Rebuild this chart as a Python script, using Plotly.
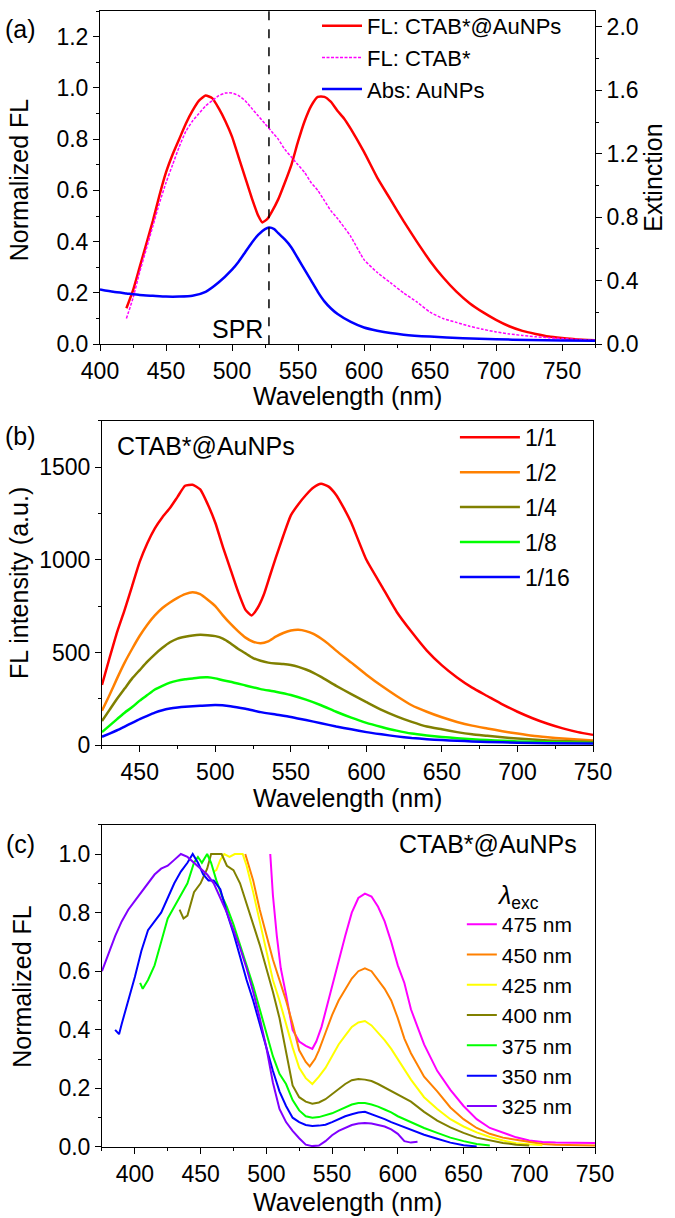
import plotly.graph_objects as go

# ---------------- panel (a) ----------------
a_fl_au_wl = [420, 425, 430, 435, 440, 445, 450, 455, 460, 465, 470, 475, 480, 485, 490, 495, 500, 505, 510, 515,
              520, 523, 527, 530, 535, 540, 545, 550, 555, 560, 565, 570, 575, 580, 585, 590, 600, 610, 620, 630,
              640, 650, 660, 670, 680, 690, 700, 710, 720, 730, 740, 750, 760, 775]
a_fl_au = [0.14, 0.21, 0.30, 0.39, 0.48, 0.58, 0.67, 0.74, 0.80, 0.86, 0.91, 0.95, 0.97, 0.96, 0.92, 0.87, 0.81, 0.73, 0.65, 0.57,
           0.50, 0.475, 0.49, 0.515, 0.565, 0.63, 0.70, 0.79, 0.87, 0.93, 0.965, 0.965, 0.945, 0.91, 0.88, 0.84, 0.75, 0.65, 0.565, 0.48,
           0.40, 0.325, 0.26, 0.205, 0.16, 0.125, 0.095, 0.07, 0.052, 0.04, 0.03, 0.024, 0.019, 0.015]

a_fl_ctab_wl = [420, 425, 430, 435, 440, 445, 450, 455, 460, 465, 470, 475, 480, 485, 490, 495, 500, 505, 510, 515,
                520, 525, 530, 535, 540, 545, 550, 555, 560, 565, 570, 575, 580, 590, 600, 610, 620, 630, 640, 650,
                660, 670, 680, 690, 700, 710, 720, 730, 740, 750, 760, 775]
a_fl_ctab = [0.10, 0.18, 0.28, 0.37, 0.46, 0.55, 0.63, 0.70, 0.77, 0.83, 0.87, 0.90, 0.93, 0.95, 0.97, 0.98, 0.98, 0.97, 0.95, 0.92,
             0.89, 0.86, 0.83, 0.80, 0.76, 0.73, 0.70, 0.67, 0.63, 0.60, 0.56, 0.52, 0.49, 0.42, 0.33, 0.28, 0.24, 0.20, 0.165, 0.125,
             0.10, 0.085, 0.07, 0.058, 0.048, 0.04, 0.034, 0.029, 0.025, 0.022, 0.019, 0.016]

a_abs_wl = [400, 410, 420, 430, 440, 450, 460, 470, 480, 490, 500, 505, 510, 515, 520, 525, 528, 532, 535, 540,
            545, 550, 555, 560, 565, 570, 575, 580, 590, 600, 610, 620, 630, 650, 675, 700, 725, 750, 775]
a_abs = [0.345, 0.33, 0.32, 0.31, 0.305, 0.30, 0.30, 0.305, 0.33, 0.39, 0.47, 0.52, 0.58, 0.64, 0.69, 0.725, 0.735, 0.725, 0.70, 0.66,
         0.61, 0.54, 0.47, 0.40, 0.33, 0.27, 0.225, 0.19, 0.14, 0.105, 0.085, 0.07, 0.06, 0.048, 0.038, 0.031, 0.026, 0.023, 0.021]

spr_nm = 528

# ---------------- panel (b) ----------------
b_names = ["1/1", "1/2", "1/4", "1/8", "1/16"]
b_colors = ["#FF0000", "#FF8000", "#808000", "#00FF00", "#0000FF"]

b_wl_11 = [425, 430, 435, 440, 445, 450, 455, 460, 465, 470, 475, 480, 485, 490, 495, 500, 505, 510, 515, 520,
           524, 528, 532, 536, 540, 545, 550, 555, 560, 565, 570, 575, 580, 585, 590,
           600, 610, 620, 630, 640, 650, 660, 670, 680, 690, 700, 710, 720, 730, 740, 750]
b_fl_11 = [325, 470, 610, 730, 860, 990, 1090, 1170, 1230, 1280, 1340, 1400, 1405, 1380, 1300, 1200, 1070, 950, 830, 730,
           700, 740, 810, 910, 1010, 1130, 1240, 1300, 1350, 1390, 1410, 1395, 1350, 1280, 1200,
           1000, 860, 720, 610, 510, 430, 365, 310, 265, 220, 180, 145, 115, 90, 70, 55]

b_wl_12 = [425, 430, 435, 440, 445, 450, 455, 460, 465, 470, 475, 480, 485, 490, 495, 500, 505, 510, 515, 520,
           525, 530, 535, 540, 545, 550, 555, 560, 565, 570, 575, 580,
           590, 600, 610, 620, 630, 640, 650, 660, 670, 680, 690, 700, 710, 720, 730, 740, 750]
b_fl_12 = [185, 270, 360, 445, 520, 590, 650, 700, 740, 770, 795, 815, 825, 815, 785, 750, 700, 655, 615, 580,
           558, 550, 560, 585, 605, 618, 622, 615, 600, 575, 545, 510,
           445, 380, 320, 265, 215, 180, 150, 125, 105, 90, 75, 62, 50, 42, 35, 30, 25]

b_wl_14 = [425, 430, 435, 440, 445, 450, 455, 460, 465, 470, 475, 480, 485, 490, 495, 500, 505, 510, 515, 520,
           525, 530, 535, 540, 545, 550, 555, 560, 565, 570,
           580, 590, 600, 610, 620, 630, 640, 650, 660, 670, 680, 690, 700, 710, 720, 730, 740, 750]
b_fl_14 = [130, 190, 250, 305, 360, 405, 450, 490, 525, 555, 575, 585, 592, 595, 593, 588, 575, 550, 520, 495,
           470, 455, 445, 440, 437, 432, 422, 408, 390, 368,
           320, 275, 232, 190, 155, 125, 100, 85, 70, 58, 50, 42, 35, 30, 25, 22, 19, 16]

b_wl_18 = [425, 430, 435, 440, 445, 450, 455, 460, 465, 470, 475, 480, 485, 490, 495, 500, 505, 510,
           520, 530, 540, 550, 560, 570, 580, 590, 600, 610, 620, 630, 640, 650, 660, 670, 680, 690, 700,
           720, 740, 750]
b_fl_18 = [70, 105, 140, 175, 205, 240, 270, 300, 320, 337, 348, 355, 360, 365, 366, 360, 350, 342,
           322, 302, 288, 270, 245, 215, 180, 148, 120, 98, 78, 62, 52, 44, 37, 31, 27, 23, 20,
           15, 12, 11]

b_wl_116 = [425, 430, 435, 440, 445, 450, 455, 460, 465, 470, 475, 480,
            490, 500, 510, 520, 530, 540, 550, 560, 570, 580, 590, 600, 610, 620, 630, 640, 650, 660, 670, 680,
            700, 720, 750]
b_fl_116 = [45, 62, 80, 100, 120, 140, 158, 175, 188, 197, 203, 207,
            212, 216, 210, 196, 178, 165, 152, 135, 118, 100, 85, 70, 58, 47, 38, 32, 27, 23, 20, 17,
            13, 10, 8]

# ---------------- panel (c) ----------------
c_names = ["475 nm", "450 nm", "425 nm", "400 nm", "375 nm", "350 nm", "325 nm"]
c_colors = ["#FF00FF", "#FF8000", "#FFFF00", "#808000", "#00FF00", "#0000FF", "#8000FF"]

c_wl_475 = [503, 505, 508, 511, 515, 520, 525, 530, 535, 538, 542, 546, 550, 555, 560, 565, 570, 575, 580, 585,
            590, 595, 600, 605, 610, 615, 620, 630, 640, 650, 660, 670, 680, 690, 700, 710, 720, 735, 750]
c_fl_475 = [1.0, 0.86, 0.72, 0.61, 0.52, 0.40, 0.36, 0.345, 0.335, 0.36, 0.41, 0.48, 0.55, 0.64, 0.72, 0.80, 0.85, 0.865, 0.855, 0.82,
            0.77, 0.70, 0.62, 0.56, 0.47, 0.41, 0.35, 0.26, 0.195, 0.14, 0.095, 0.065, 0.048, 0.033, 0.022, 0.017, 0.015, 0.014, 0.014]

c_wl_450 = [484, 486, 490, 495, 500, 505, 510, 515, 520, 525, 530, 533, 537, 540, 545, 550, 555, 560, 565, 570,
            575, 580, 585, 590, 595, 600, 605, 610, 620, 630, 640, 650, 660, 670, 680, 690, 700, 710, 720, 735, 750]
c_fl_450 = [1.0, 0.97, 0.91, 0.81, 0.72, 0.64, 0.57, 0.50, 0.42, 0.33, 0.29, 0.275, 0.30, 0.33, 0.39, 0.45, 0.50, 0.54, 0.575, 0.60,
            0.61, 0.60, 0.57, 0.54, 0.50, 0.44, 0.37, 0.32, 0.24, 0.19, 0.135, 0.095, 0.065, 0.045, 0.032, 0.024, 0.016, 0.01, 0.008, 0.006, 0.005]

c_wl_425 = [460, 462, 465, 468, 472, 476, 482, 485, 490, 495, 500, 505, 510, 515, 520, 525, 530, 535, 540, 545,
            550, 555, 560, 565, 570, 575, 580, 585, 590, 595, 600, 610, 620, 630, 640, 650, 660, 670, 680, 690, 700, 710]
c_fl_425 = [0.94, 0.945, 0.98, 1.0, 0.99, 1.0, 1.0, 0.96, 0.87, 0.77, 0.66, 0.57, 0.50, 0.42, 0.34, 0.27, 0.235, 0.215, 0.24, 0.27,
            0.31, 0.35, 0.38, 0.41, 0.425, 0.43, 0.415, 0.39, 0.365, 0.335, 0.30, 0.23, 0.17, 0.13, 0.095, 0.07, 0.05, 0.034, 0.022, 0.013, 0.009, 0.006]

c_wl_400 = [434, 437, 440, 445, 450, 455, 458, 462, 466, 470, 475, 480, 485, 490, 495, 500, 505, 510, 515, 520,
            525, 530, 535, 540, 545, 550, 555, 560, 565, 570, 575, 580, 585, 590, 600, 610, 620, 630, 640, 650,
            660, 670, 680, 690, 700]
c_fl_400 = [0.81, 0.78, 0.79, 0.87, 0.90, 0.95, 1.0, 1.0, 1.0, 0.96, 0.945, 0.90, 0.83, 0.76, 0.69, 0.61, 0.53, 0.44, 0.32, 0.21,
            0.17, 0.155, 0.148, 0.152, 0.163, 0.18, 0.20, 0.215, 0.228, 0.232, 0.23, 0.225, 0.215, 0.203, 0.18, 0.155, 0.12, 0.09, 0.067, 0.048,
            0.032, 0.022, 0.014, 0.008, 0.005]

c_wl_375 = [404, 406, 410, 415, 420, 425, 430, 435, 440, 445, 448, 451, 455, 458, 462, 466, 470, 475, 480, 485,
            490, 495, 500, 505, 510, 515, 520, 525, 530, 535, 540, 545, 550, 555, 560, 565, 570, 575, 580, 585,
            590, 595, 600, 610, 620, 630, 640, 650, 660, 670]
c_fl_375 = [0.56, 0.54, 0.57, 0.62, 0.70, 0.78, 0.82, 0.86, 0.90, 0.97, 0.99, 0.97, 1.0, 0.97, 0.91, 0.86, 0.82, 0.76, 0.69, 0.62,
            0.55, 0.47, 0.39, 0.31, 0.25, 0.215, 0.16, 0.125, 0.105, 0.10, 0.102, 0.108, 0.115, 0.125, 0.135, 0.145, 0.15, 0.15, 0.145, 0.138,
            0.128, 0.118, 0.105, 0.085, 0.065, 0.048, 0.032, 0.02, 0.01, 0.005]

c_wl_350 = [385, 388, 390, 395, 400, 405, 410, 415, 420, 425, 430, 435, 440, 444, 448, 452, 456, 460,
            465, 470, 475, 480, 485, 490, 495, 500, 505, 510, 515, 520, 525, 530, 535, 540, 545, 550, 555, 560,
            565, 570, 575, 580, 585, 590, 595, 600, 605, 610, 620, 630, 640, 650, 660]
c_fl_350 = [0.40, 0.385, 0.42, 0.50, 0.58, 0.67, 0.74, 0.77, 0.80, 0.85, 0.90, 0.94, 0.97, 1.0, 0.97, 0.93, 0.91, 0.91,
            0.88, 0.80, 0.73, 0.65, 0.57, 0.50, 0.42, 0.34, 0.26, 0.19, 0.14, 0.10, 0.085, 0.075, 0.072, 0.073, 0.076, 0.085, 0.095, 0.105,
            0.112, 0.118, 0.12, 0.112, 0.105, 0.095, 0.085, 0.076, 0.068, 0.058, 0.042, 0.028, 0.015, 0.006, 0.002]

c_wl_325 = [375, 380, 385, 390, 395, 400, 405, 410, 415, 420, 425, 430, 435, 440, 445, 450, 455, 460, 465, 470,
            475, 480, 485, 490, 495, 500, 505, 510, 515, 520, 525, 530, 535, 540, 545, 550, 555, 560, 565, 570,
            575, 580, 585, 590, 595, 600, 605, 610, 615]
c_fl_325 = [0.60, 0.66, 0.72, 0.77, 0.81, 0.84, 0.87, 0.90, 0.93, 0.95, 0.96, 0.98, 1.0, 0.99, 0.97, 0.95, 0.93, 0.90, 0.85, 0.80,
            0.74, 0.68, 0.61, 0.53, 0.44, 0.34, 0.22, 0.13, 0.085, 0.055, 0.03, 0.008, 0.003, 0.005, 0.02, 0.04, 0.055, 0.065, 0.075, 0.08,
            0.082, 0.08, 0.075, 0.07, 0.06, 0.045, 0.02, 0.015, 0.018]

FONT = "Liberation Sans, Arial, sans-serif"
FS_TICK = 23
FS = 25

fig = go.Figure()

# (a)
fig.add_trace(go.Scatter(x=a_fl_au_wl, y=a_fl_au, name="FL: CTAB*@AuNPs", mode="lines",
                         line=dict(color="#FF0000", width=2.5, shape="spline", smoothing=0.5),
                         xaxis="x", yaxis="y", legend="legend"))
fig.add_trace(go.Scatter(x=a_fl_ctab_wl, y=a_fl_ctab, name="FL: CTAB*", mode="lines",
                         line=dict(color="#FF00FF", width=1.5, dash="3px,1.5px", shape="spline", smoothing=0.5),
                         xaxis="x", yaxis="y", legend="legend"))
fig.add_trace(go.Scatter(x=a_abs_wl, y=a_abs, name="Abs: AuNPs", mode="lines",
                         line=dict(color="#0000FF", width=2.5, shape="spline", smoothing=0.5),
                         xaxis="x", yaxis="y2", legend="legend"))

# (b)
b_wls = [b_wl_11, b_wl_12, b_wl_14, b_wl_18, b_wl_116]
b_fls = [b_fl_11, b_fl_12, b_fl_14, b_fl_18, b_fl_116]
for name, col, wl, fl in zip(b_names, b_colors, b_wls, b_fls):
    fig.add_trace(go.Scatter(x=wl, y=fl, name=name, mode="lines",
                             line=dict(color=col, width=2.5, shape="spline", smoothing=0.5),
                             xaxis="x2", yaxis="y3", legend="legend2", legendgroup="b" + name))

# (c)
c_wls = [c_wl_475, c_wl_450, c_wl_425, c_wl_400, c_wl_375, c_wl_350, c_wl_325]
c_fls = [c_fl_475, c_fl_450, c_fl_425, c_fl_400, c_fl_375, c_fl_350, c_fl_325]
for name, col, wl, fl in zip(c_names, c_colors, c_wls, c_fls):
    fig.add_trace(go.Scatter(x=wl, y=fl, name=name, mode="lines",
                             line=dict(color=col, width=2),
                             xaxis="x3", yaxis="y4", legend="legend3"))


def axis_style(rng, dtick, minor, tick0=None, fmt=None):
    d = dict(range=rng, dtick=dtick, ticks="outside", ticklen=6, tickwidth=1, tickcolor="black",
             showline=True, linecolor="black", linewidth=1, mirror=True, showgrid=False, zeroline=False,
             tickfont=dict(family=FONT, size=FS_TICK, color="black"),
             minor=dict(ticks="outside", ticklen=3, tickwidth=1, tickcolor="black", dtick=minor))
    if tick0 is not None:
        d["tick0"] = tick0
    if fmt:
        d["tickformat"] = fmt
    return d


fig.update_layout(
    width=675, height=1218,
    margin=dict(l=100, r=80, t=5, b=71),
    paper_bgcolor="white", plot_bgcolor="white",
    font=dict(family=FONT, size=FS, color="black"),
    xaxis=dict(axis_style([400, 775], 50, 25, 400), domain=[0, 1], anchor="y"),
    yaxis=dict(axis_style([0, 1.3], 0.2, 0.1, 0, ".1f"), domain=[0.7067, 1.0], anchor="x"),
    yaxis2=dict(axis_style([0, 2.1], 0.4, 0.2, 0, ".1f"), overlaying="y", side="right", anchor="x",
                title=dict(text="Extinction", font=dict(family=FONT, size=FS), standoff=6)),
    xaxis2=dict(axis_style([425, 750], 50, 25, 450), domain=[0.004, 0.996], anchor="y3"),
    yaxis3=dict(axis_style([0, 1750], 500, 250, 0), domain=[0.3538, 0.6392], anchor="x2"),
    xaxis3=dict(axis_style([375, 750], 50, 25, 400), domain=[0.004, 1.0], anchor="y4"),
    yaxis4=dict(axis_style([0, 1.1], 0.2, 0.1, 0, ".1f"), domain=[0, 0.2837], anchor="x3"),
    legend=dict(x=0.4384, y=1.0053, xanchor="left", yanchor="top", bgcolor="rgba(0,0,0,0)",
                font=dict(size=22), itemwidth=40, tracegroupgap=0),
    legend2=dict(x=0.717, y=0.6436, xanchor="left", yanchor="top", bgcolor="rgba(0,0,0,0)",
                 font=dict(size=23), itemwidth=60, traceorder="grouped", tracegroupgap=2),
    legend3=dict(x=0.731, y=0.2425, xanchor="left", yanchor="top", bgcolor="rgba(0,0,0,0)",
                 font=dict(size=21), itemwidth=30, tracegroupgap=0,
                 title=dict(text="<i>λ</i><sub>exc</sub>", side="top center", font=dict(size=FS))),
    showlegend=True,
)

# SPR marker line
fig.add_shape(type="line", xref="x", yref="y domain", x0=spr_nm, x1=spr_nm, y0=0, y1=1,
              line=dict(color="black", width=1.5, dash="dash"))

ann = dict(showarrow=False, font=dict(family=FONT, size=FS, color="black"))
fig.add_annotation(text="SPR", xref="x", yref="y", x=spr_nm - 3, y=0.06, xanchor="right", yanchor="middle", **ann)
for lab, yy in [("(a)", 0.9842), ("(b)", 0.6261), ("(c)", 0.2671)]:
    fig.add_annotation(text=lab, xref="paper", yref="paper", x=-0.1616, y=yy,
                       xanchor="center", yanchor="middle", **ann)
for lab, xx, yy in [("Normalized FL", -0.1636, 0.851), ("FL intensity (a.u.)", -0.1636, 0.4965),
                    ("Normalized FL", -0.1576, 0.1419)]:
    fig.add_annotation(text=lab, xref="paper", yref="paper", x=xx, y=yy, textangle=-90,
                       xanchor="center", yanchor="middle", **ann)
for yy in [0.6611, 0.3074, -0.0482]:
    fig.add_annotation(text="Wavelength (nm)", xref="paper", yref="paper", x=0.5, y=yy,
                       xanchor="center", yanchor="middle", **ann)
fig.add_annotation(text="CTAB*@AuNPs", xref="paper", yref="paper", x=0.0303, y=0.6173,
                   xanchor="left", yanchor="middle", **ann)
fig.add_annotation(text="CTAB*@AuNPs", xref="paper", yref="paper", x=0.9677, y=0.2671,
                   xanchor="right", yanchor="middle", **ann)

# the page body has a default 8px margin; remove it so the figure fills the window exactly
fig.write_html("out.html", config={"displayModeBar": False},
               post_script="document.body.style.margin='0px';")
